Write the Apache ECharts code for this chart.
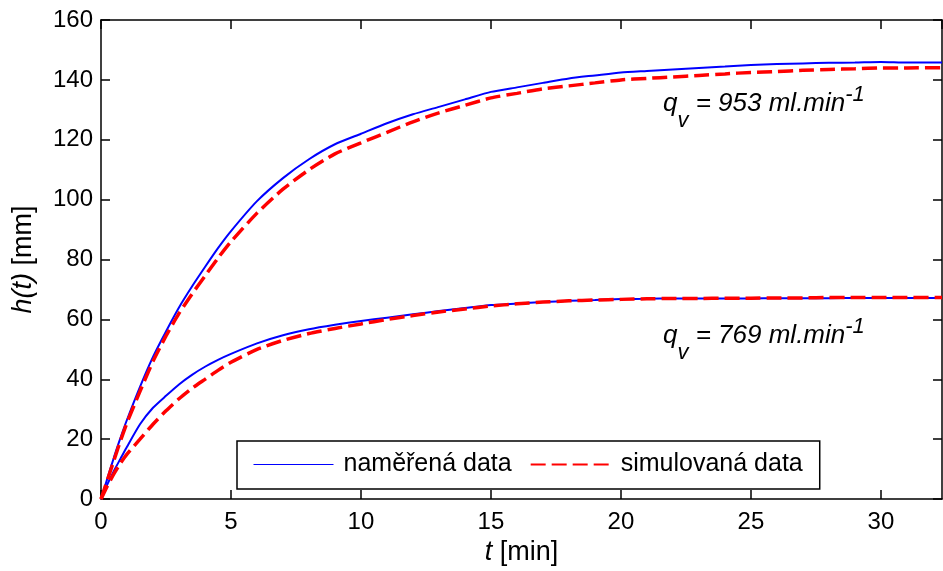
<!DOCTYPE html>
<html>
<head>
<meta charset="utf-8">
<script src="https://cdn.jsdelivr.net/npm/echarts@6/dist/echarts.min.js"></script>
<style>
  html, body { margin: 0; padding: 0; background: #fff; }
  #chart { width: 943px; height: 571px; }
</style>
</head>
<body>
<div id="chart"></div>
<script>
// ── Data ──────────────────────────────────────────────────────────────
// time [min]
const time = [0, 0.25, 0.5, 0.75, 1, 1.5, 2, 2.5, 3, 3.5, 4, 4.5, 5, 6, 7, 8, 9, 10,
  11, 12, 13, 14, 15, 16, 17, 18, 19, 20, 21, 22, 23, 24, 25, 26, 27, 28, 29, 30, 31, 32.35];

// q_v = 953 ml/min
const measured953 = [0, 7, 14, 20.5, 26.5, 37.5, 47.5, 56, 64, 71, 77.5, 83.8, 89.5, 99.5, 107.2, 113.5, 118.5, 122,
  125.5, 128.5, 131, 133.5, 136, 137.5, 139, 140.5, 141.5, 142.5, 143, 143.5, 144, 144.5, 145, 145.3, 145.5, 145.7, 145.8, 146, 145.8, 145.8];
const simulated953 = [0, 6.5, 13, 19.5, 25.5, 36, 46, 54.5, 62, 68.5, 74.5, 80.5, 86, 95.5, 103.5, 110, 115.3, 119,
  122.5, 126, 129, 131.5, 134, 135.5, 137, 138, 139, 140, 140.5, 141, 141.5, 142, 142.5, 142.8, 143.2, 143.5, 143.7, 144, 144, 144.1];

// q_v = 769 ml/min
const measured769 = [0, 5, 9.5, 13.5, 17.5, 25, 30.5, 34.5, 38.3, 41.5, 44.2, 46.5, 48.5, 52, 54.7, 56.7, 58.2, 59.5,
  60.6, 61.7, 62.8, 63.8, 64.8, 65.3, 65.8, 66.2, 66.5, 66.8, 66.9, 67, 67, 67, 67, 67.1, 67.1, 67.1, 67.2, 67.2, 67.2, 67.2];
const simulated769 = [0, 4.5, 8.5, 12, 15, 20, 25, 29.5, 33.5, 37, 40, 43, 45.7, 50, 53, 55.3, 57, 58.5,
  60, 61.3, 62.5, 63.5, 64.5, 65.2, 65.8, 66.2, 66.5, 66.7, 66.9, 67, 67, 67.1, 67.1, 67.2, 67.2, 67.3, 67.3, 67.3, 67.3, 67.3];

const seriesNames = ['naměřená data', 'simulovaná data'];
const xTicks = [0, 5, 10, 15, 20, 25, 30];
const yTicks = [0, 20, 40, 60, 80, 100, 120, 140, 160];
const annotations = ['953', '769'];

// ── Styles ────────────────────────────────────────────────────────────
const font = '"Liberation Sans", Arial, sans-serif';
const blue = '#0000ff';
const red = '#ff0000';
const xMax = 32.35;

const pairs = vals => time.map((t, i) => [t, vals[i]]);

// MATLAB style: black box, ticks pointing into the plot on all four sides
const axisLine = () => ({ show: true, onZero: false, lineStyle: { color: '#000', width: 1.5 } });
const tick = () => ({ show: true, inside: true, length: 9, lineStyle: { color: '#000', width: 1.5 } });

// q_v = ... ml.min^-1 with subscript / superscript
const richQ = {
  a: { fontFamily: font, fontSize: 26, fontStyle: 'italic', lineHeight: 56, fill: '#000' },
  s: { fontFamily: font, fontSize: 22, fontStyle: 'italic', lineHeight: 28, verticalAlign: 'bottom', fill: '#000' },
  p: { fontFamily: font, fontSize: 22, fontStyle: 'italic', lineHeight: 24, padding: [0, 0, 18, 0], fill: '#000' }
};
const qLabel = (v, top) => ({
  type: 'text', left: 663, top: top,
  style: { text: '{a|q}{s|v}{a| = ' + v + ' ml.min}{p|-1}', rich: richQ, fill: '#000' }
});

const chart = echarts.init(document.getElementById('chart'), null, { renderer: 'canvas' });
chart.setOption({
  animation: false,
  backgroundColor: '#fff',
  grid: { left: 101, right: 1, top: 20, bottom: 71 },
  legend: {
    data: [
      { name: seriesNames[0], lineStyle: { width: 1 }, itemStyle: { opacity: 0 } },
      { name: seriesNames[1], itemStyle: { opacity: 0 } }
    ],
    left: 237, top: 441,
    padding: [11, 17, 12, 16],
    itemGap: 18, itemWidth: 80, itemHeight: 14,
    borderColor: '#000', borderWidth: 1.5, backgroundColor: '#fff',
    textStyle: { fontFamily: font, fontSize: 25, color: '#000', padding: [0, 0, 0, 5] }
  },
  xAxis: [{
    type: 'value', min: 0, max: xMax, interval: 5,
    axisLine: axisLine(), axisTick: tick(), splitLine: { show: false },
    axisLabel: {
      fontFamily: font, fontSize: 24, color: '#000', margin: 11, showMaxLabel: false,
      formatter: v => (xTicks.includes(v) ? String(v) : '')
    },
    name: '{i|t} [min]', nameLocation: 'middle', nameGap: 36,
    nameTextStyle: {
      fontFamily: font, fontSize: 27, color: '#000',
      rich: { i: { fontFamily: font, fontSize: 27, fontStyle: 'italic', color: '#000' } }
    }
  }, {
    type: 'value', position: 'top', min: 0, max: xMax, interval: 5,
    axisLine: axisLine(), axisTick: tick(), axisLabel: { show: false }, splitLine: { show: false }
  }],
  yAxis: [{
    type: 'value', min: 0, max: 160, interval: 20,
    axisLine: axisLine(), axisTick: tick(), splitLine: { show: false },
    axisLabel: {
      fontFamily: font, fontSize: 24, color: '#000', margin: 8,
      formatter: v => (yTicks.includes(v) ? String(v) : '')
    },
    name: '{i|h(t)} [mm]', nameLocation: 'middle', nameGap: 64,
    nameTextStyle: {
      fontFamily: font, fontSize: 27, color: '#000',
      rich: { i: { fontFamily: font, fontSize: 27, fontStyle: 'italic', color: '#000' } }
    }
  }, {
    type: 'value', position: 'right', min: 0, max: 160, interval: 20,
    axisLine: axisLine(), axisTick: tick(), axisLabel: { show: false }, splitLine: { show: false }
  }],
  series: [
    { name: seriesNames[0], type: 'line', data: pairs(measured953), symbol: 'none', smooth: 0.2,
      lineStyle: { color: blue, width: 2 }, itemStyle: { color: blue } },
    { name: seriesNames[0], type: 'line', data: pairs(measured769), symbol: 'none', smooth: 0.2,
      lineStyle: { color: blue, width: 2 }, itemStyle: { color: blue } },
    { name: seriesNames[1], type: 'line', data: pairs(simulated953), symbol: 'none', smooth: 0.2,
      lineStyle: { color: red, width: 3.5, type: [15, 6] }, itemStyle: { color: red } },
    { name: seriesNames[1], type: 'line', data: pairs(simulated769), symbol: 'none', smooth: 0.2,
      lineStyle: { color: red, width: 3.5, type: [15, 6] }, itemStyle: { color: red } }
  ],
  graphic: [qLabel(annotations[0], 84), qLabel(annotations[1], 316)]
});
</script>
</body>
</html>
